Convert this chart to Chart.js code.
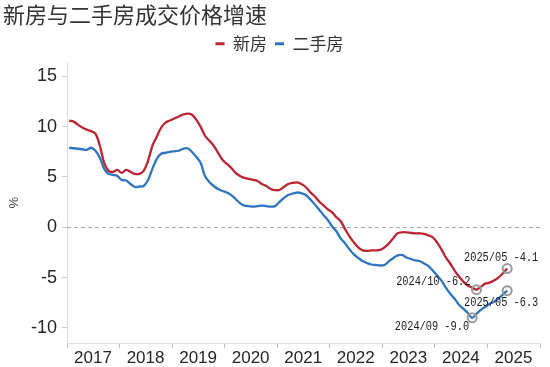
<!DOCTYPE html>
<html>
<head>
<meta charset="utf-8">
<script src="https://cdn.jsdelivr.net/npm/chart.js@4/dist/chart.umd.min.js"></script>
<style>
html,body{margin:0;padding:0;background:#fff;}
#wrap{width:550px;height:367px;}
</style>
</head>
<body>
<div id="wrap"><canvas id="c" width="550" height="367"></canvas></div>
<script>
// ---- data (monthly, 2017/01 .. 2025/05) ----
const startYear = 2017;
const years = ['2017','2018','2019','2020','2021','2022','2023','2024','2025'];
const seriesNames = ['新房', '二手房'];
const newHome = [
 10.6,10.5,10.2,9.9,9.7,9.55,9.3,8.1,6.4,5.6,5.5,5.7,
 5.4,5.7,5.5,5.3,5.3,5.6,6.6,8.1,9.0,9.9,10.4,10.6,
 10.8,11.0,11.2,11.3,11.2,10.7,10.0,9.1,8.6,8.1,7.4,6.7,
 6.3,5.9,5.4,5.1,4.9,4.8,4.7,4.6,4.3,4.1,3.8,3.7,
 3.7,4.0,4.3,4.4,4.45,4.3,4.0,3.5,3.1,2.6,2.2,1.8,
 1.5,1.0,0.6,-0.2,-0.9,-1.5,-2.0,-2.3,-2.35,-2.3,-2.3,-2.25,
 -2.0,-1.6,-1.1,-0.6,-0.5,-0.5,-0.55,-0.6,-0.6,-0.65,-0.8,-1.0,
 -1.5,-2.2,-3.0,-3.6,-4.3,-4.9,-5.4,-5.8,-6.0,-6.2,-5.9,-5.6,
 -5.5,-5.3,-5.0,-4.6,-4.1
];
const secondHand = [
 7.9,7.85,7.8,7.75,7.7,7.9,7.6,6.9,5.8,5.3,5.2,5.1,
 4.7,4.65,4.3,4.0,4.05,4.1,4.7,5.8,6.8,7.3,7.4,7.5,
 7.55,7.6,7.8,7.85,7.5,7.0,6.4,5.1,4.5,4.1,3.8,3.6,
 3.45,3.2,2.8,2.4,2.15,2.1,2.05,2.1,2.15,2.1,2.05,2.1,
 2.5,2.9,3.2,3.35,3.45,3.4,3.2,2.8,2.3,1.8,1.25,0.75,
 0.1,-0.4,-1.1,-1.6,-2.2,-2.7,-3.05,-3.35,-3.55,-3.7,-3.75,-3.8,
 -3.75,-3.4,-3.05,-2.8,-2.75,-3.0,-3.15,-3.3,-3.35,-3.6,-3.85,-4.3,
 -4.8,-5.3,-6.0,-6.6,-7.1,-7.7,-8.1,-8.5,-9.0,-8.6,-8.2,-7.9,
 -7.6,-7.4,-7.1,-6.7,-6.3
];
const yTicks = [-10,-5,0,5,10,15];
// annotations: date, value
const annotDates = ['2025/05','2024/10','2025/05','2024/09'];
const annotValues = [-4.1,-6.2,-6.3,-9.0];

// ---- helpers ----
const monthIndex = d => { const [y,m] = d.split('/').map(Number); return (y-startYear)*12 + (m-1); };
const toPts = arr => arr.map((v,i)=>({x:i,y:v}));
const annotPts = annotDates.map((d,i)=>({x:monthIndex(d), y:annotValues[i]}));
const annotTexts = annotDates.map((d,i)=> d + ' ' + annotValues[i].toFixed(1));

const RED = '#b82535', BLUE = '#2e74bf';
const FONT = '"Liberation Sans", Arial, sans-serif';
const CJK = '"Noto Sans CJK SC", sans-serif';
const MONO = '"Liberation Mono", "DejaVu Sans Mono", monospace';

// label placement relative to each marker: [dx, dy, align]
const labelLayout = [[-6,-11,'center'],[-6,-8,'right'],[-6,12,'center'],[-3,9,'right']];

const zeroLine = {
  id:'zeroLine',
  beforeDatasetsDraw(chart){
    const {ctx, chartArea:a, scales:{y}} = chart;
    const py = Math.round(y.getPixelForValue(0))+0.5;
    ctx.save();
    ctx.strokeStyle = '#a6a6a6'; ctx.lineWidth = 1.2; ctx.setLineDash([4,3]);
    ctx.beginPath(); ctx.moveTo(a.left, py); ctx.lineTo(a.right, py); ctx.stroke();
    ctx.restore();
  }
};
const annotLabels = {
  id:'annotLabels',
  afterDatasetsDraw(chart){
    const meta = chart.getDatasetMeta(2);
    const ctx = chart.ctx;
    const sx = 0.86;
    ctx.save();
    ctx.font = '12px ' + MONO;
    ctx.fillStyle = '#1a1a1a';
    ctx.textBaseline = 'middle';
    meta.data.forEach((pt,i)=>{
      const [dx,dy,al] = labelLayout[i];
      ctx.save();
      ctx.translate(pt.x+dx, pt.y+dy);
      ctx.scale(sx,1);
      ctx.textAlign = al;
      ctx.fillText(annotTexts[i], 0, 0);
      ctx.restore();
    });
    ctx.restore();
  }
};
const legendShift = {
  id:'legendShift',
  afterLayout(chart){
    const lg = chart.legend;
    if (lg) { lg.left += 8; lg.right += 8; if (lg.adjustHitBoxes) lg.adjustHitBoxes(); }
  }
};

new Chart(document.getElementById('c'), {
  type:'line',
  data:{
    datasets:[
      {label:seriesNames[0], data:toPts(newHome), borderColor:RED, backgroundColor:RED, borderWidth:2.3, pointRadius:0, tension:0.35},
      {label:seriesNames[1], data:toPts(secondHand), borderColor:BLUE, backgroundColor:BLUE, borderWidth:2.3, pointRadius:0, tension:0.35},
      {label:'marks', data:annotPts, showLine:false, pointRadius:4.5, pointBorderWidth:2, pointBorderColor:'#9a9a9a', pointBackgroundColor:'rgba(0,0,0,0)', borderColor:'#9a9a9a', order:-1}
    ]
  },
  options:{
    responsive:false, animation:false, devicePixelRatio:1,
    layout:{padding:{left:3,right:10,top:0,bottom:0}},
    plugins:{
      tooltip:{enabled:false},
      title:{display:true, text:'新房与二手房成交价格增速', align:'start', color:'#333',
        font:{family:CJK, size:22, weight:'normal', lineHeight:1.1}, padding:{top:3,bottom:0}},
      legend:{display:true, position:'top', align:'center',
        labels:{color:'#333', font:{family:CJK, size:17}, boxWidth:9, boxHeight:3, padding:8,
          filter:(item)=> item.datasetIndex < 2,
          generateLabels:(chart)=> Chart.defaults.plugins.legend.labels.generateLabels(chart).map(it=>({...it, lineWidth:0}))
        }
      }
    },
    scales:{
      x:{type:'linear', min:-0.5, max:107.5,
        afterBuildTicks:(s)=>{ s.ticks = years.concat(['']).map((_,k)=>({value:-0.5+12*k})); },
        afterFit:(s)=>{ s.height = 24; },
        ticks:{autoSkip:false, maxRotation:0, minRotation:0, padding:0, labelOffset:26,
          color:'#262626', font:{family:FONT, size:17},
          callback:(v,i)=> years[i] || ''},
        grid:{drawOnChartArea:false, drawTicks:true, tickLength:5, tickColor:'#bfbfbf', color:'#bfbfbf'},
        border:{display:true, color:'#e3e3e3'}
      },
      y:{type:'linear', min:-11.5, max:16.4,
        afterBuildTicks:(s)=>{ s.ticks = yTicks.map(v=>({value:v})); },
        afterFit:(s)=>{ s.width = 64; },
        ticks:{padding:5, color:'#262626', font:{family:FONT, size:18}},
        grid:{drawOnChartArea:false, drawTicks:true, tickLength:5, tickColor:'#d0d0d0'},
        border:{display:true, color:'#dcdcdc'},
        title:{display:true, text:'%', color:'#444', font:{family:FONT, size:13}, padding:{top:4,bottom:0}}
      }
    }
  },
  plugins:[zeroLine, annotLabels, legendShift]
});
</script>
</body>
</html>
